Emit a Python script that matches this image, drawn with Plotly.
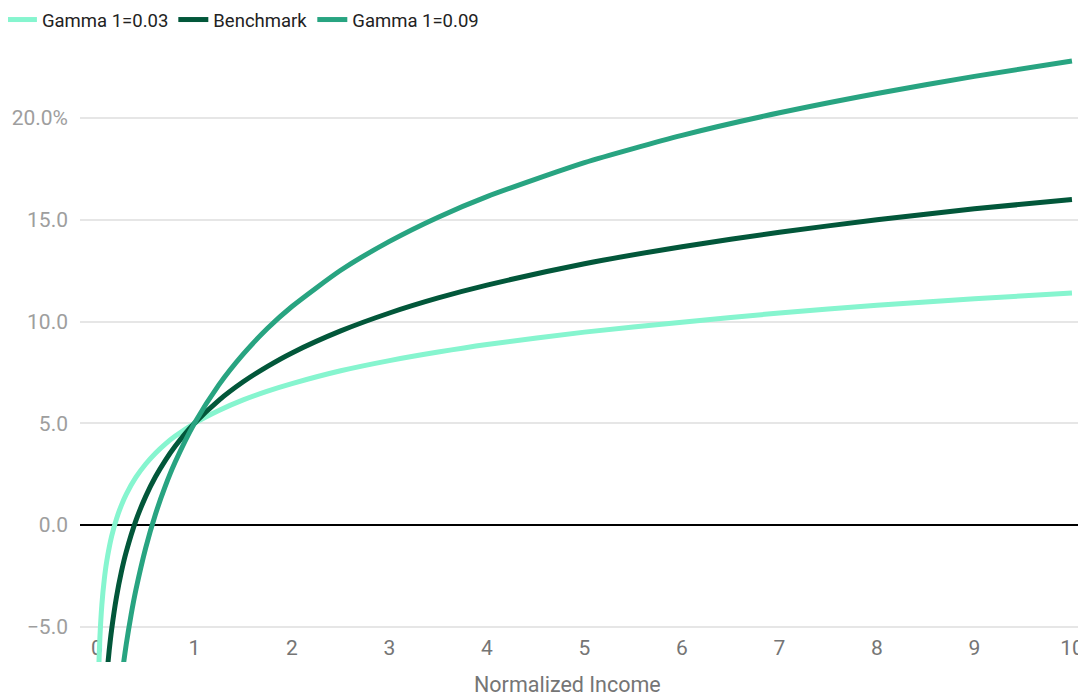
import plotly.graph_objects as go

# Normalized income (x) and average rate in % (y)
x_g03 = [0.005, 0.01, 0.02, 0.03, 0.05, 0.075, 0.1, 0.15, 0.2, 0.25, 0.3, 0.4, 0.5, 0.6, 0.7, 0.8,
         1.0, 1.25, 1.5, 1.75, 2, 2.5, 3, 3.5, 4, 5, 6, 7, 8, 9, 10]
y_g03 = [-11.37, -9.07, -6.83, -5.54, -3.93, -2.68, -1.79, -0.56, 0.30, 0.97, 1.51, 2.35, 3.00, 3.53, 3.98, 4.36,
         5.00, 5.63, 6.15, 6.58, 6.95, 7.58, 8.08, 8.50, 8.87, 9.48, 9.97, 10.42, 10.80, 11.12, 11.40]

x_bench = [0.05, 0.075, 0.1, 0.125, 0.15, 0.2, 0.25, 0.3, 0.4, 0.5, 0.6, 0.7, 0.8,
           1.0, 1.25, 1.5, 1.75, 2, 2.5, 3, 3.5, 4, 5, 6, 7, 8, 9, 10]
y_bench = [-11.51, -9.12, -7.45, -6.18, -5.15, -3.54, -2.31, -1.32, 0.23, 1.41, 2.37, 3.17, 3.86,
           5.00, 6.13, 7.04, 7.80, 8.46, 9.54, 10.42, 11.16, 11.79, 12.84, 13.68, 14.39, 15.00, 15.54, 16.00]

x_g09 = [0.2, 0.25, 0.275, 0.3, 0.35, 0.4, 0.5, 0.6, 0.7, 0.8,
         1.0, 1.25, 1.5, 1.75, 2, 2.5, 3, 3.5, 4, 5, 6, 7, 8, 9, 10]
y_g09 = [-9.81, -7.62, -6.71, -5.87, -4.41, -3.17, -1.12, 0.53, 1.90, 3.07,
         5.00, 6.89, 8.40, 9.67, 10.74, 12.52, 13.94, 15.13, 16.14, 17.81, 19.15, 20.26, 21.21, 22.05, 22.80]

series_names = ["Gamma 1=0.03", "Benchmark", "Gamma 1=0.09"]
series_colors = ["#86F5CF", "#02573A", "#28A481"]

x_ticks = list(range(0, 11))
y_ticks = [-5, 0, 5, 10, 15, 20]
y_tick_text = ["\u22125.0", "0.0", "5.0", "10.0", "15.0", "20.0%"]

fig = go.Figure()
for xs, ys, name, color in zip([x_g03, x_bench, x_g09], [y_g03, y_bench, y_g09],
                               series_names, series_colors):
    fig.add_trace(go.Scatter(x=xs, y=ys, mode="lines", name=name,
                             line=dict(color=color, width=5, shape="spline", smoothing=0.6)))

fig.update_layout(
    width=1078, height=690,
    margin=dict(l=72, r=0, t=37, b=36, autoexpand=False),
    plot_bgcolor="white", paper_bgcolor="white",
    font=dict(family="Roboto", size=21, color="#757575"),
    showlegend=True,
    legend=dict(orientation="h", xref="paper", yref="paper", x=-0.0776, y=1.0713,
                xanchor="left", yanchor="top", font=dict(size=18.5, color="#222222"),
                itemwidth=30, tracegroupgap=0, bgcolor="rgba(0,0,0,0)"),
    xaxis=dict(range=[-0.174, 10.144], tickvals=x_ticks, showgrid=False, zeroline=False,
               showline=False, ticks="", ticklabelposition="inside", layer="below traces",
               automargin=False, tickfont=dict(size=21, color="#757575")),
    yaxis=dict(range=[-6.73, 23.59], tickvals=y_ticks, ticktext=y_tick_text,
               showgrid=True, gridcolor="#E6E6E6", gridwidth=1.5,
               zeroline=True, zerolinecolor="#000000", zerolinewidth=1.5,
               showline=False, ticks="", ticklabelstandoff=11, automargin=False,
               tickfont=dict(size=21, color="#9E9E9E")),
    annotations=[dict(text="Normalized Income", xref="paper", yref="paper", x=0.485, y=0,
                      yshift=-22, xanchor="center", yanchor="middle", showarrow=False,
                      font=dict(size=21.5, color="#757575"))],
)

fig.write_html("out.html")
